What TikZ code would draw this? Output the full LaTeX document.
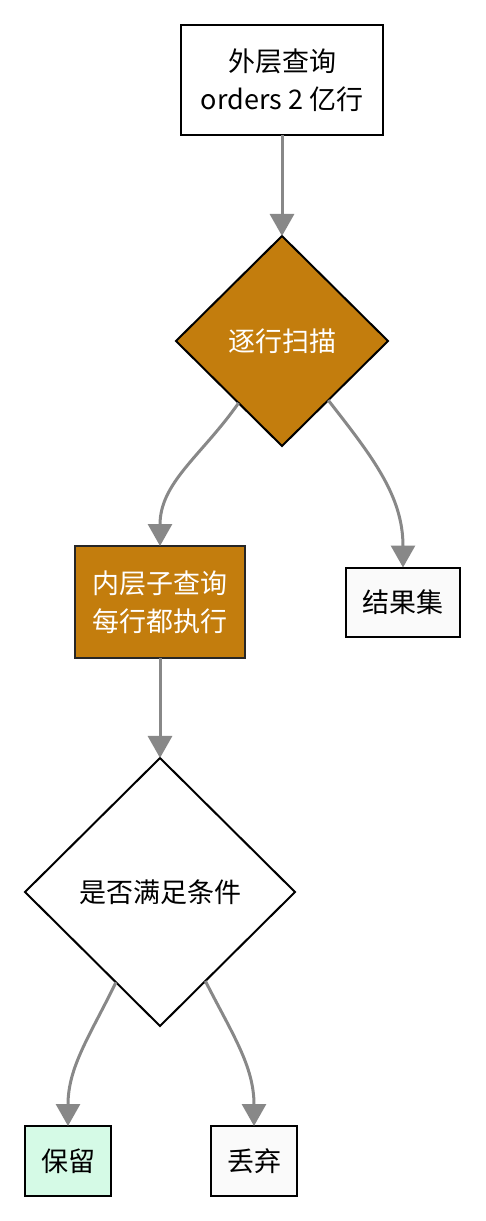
\documentclass[tikz,border=0pt]{standalone}
\usepackage{fontspec}
\setmainfont{Noto Sans CJK SC}
\usetikzlibrary{positioning,shapes.geometric,arrows.meta}
\definecolor{scanorange}{RGB}{195,125,13}
\definecolor{keepgreen}{RGB}{213,250,230}
\definecolor{plaingray}{RGB}{250,250,250}
\definecolor{linegray}{RGB}{136,136,136}

\begin{document}
\begin{tikzpicture}[
font=\fontsize{27}{38}\selectfont,
plainbox/.style={rectangle, draw=black, fill=white, line width=2pt, align=center, inner sep=0pt, outer sep=0pt},
orangebox/.style={rectangle, draw=black!85, fill=scanorange, text=white, line width=2.5pt, align=center, inner sep=0pt, outer sep=0pt},
decision/.style={diamond, draw=black, line width=2pt, inner sep=0pt, outer sep=0pt, align=center},
flow/.style={-{Triangle[width=24pt,length=22pt]}, draw=linegray, line width=3pt},
]
\useasboundingbox (0pt,0pt) rectangle (485pt,-1221pt);

%Nodes
\node[plainbox, minimum width=202pt, minimum height=110pt]  (outer)  at (282pt,-80pt)  {外层查询\\orders 2 亿行};
\node[decision, fill=scanorange, text=white, minimum width=212pt, minimum height=210pt] (scan) [below=101pt of outer] {逐行扫描};
\node[orangebox, minimum width=170pt, minimum height=112pt] (inner) [below=100pt of scan, xshift=-122pt] {内层子查询\\每行都执行};
\node[plainbox, fill=plaingray, minimum width=114pt, minimum height=69pt] (result) [right=101pt of inner] {结果集};
\node[decision, fill=white, minimum width=270pt, minimum height=268pt] (check) [below=100pt of inner] {是否满足条件};
\node[plainbox, fill=keepgreen, minimum width=86pt, minimum height=70pt] (keep) [below=100pt of check, xshift=-92pt] {保留};
\node[plainbox, fill=plaingray, minimum width=86pt, minimum height=70pt] (drop) [right=100pt of keep] {丢弃};

%Lines
\draw[flow] (outer) -- (scan);
\draw[flow] (scan) to[out=-125, in=90] (inner);
\draw[flow] (scan) to[out=-52, in=90] (result);
\draw[flow] (inner) -- (check);
\draw[flow] (check) to[out=-116, in=90] (keep);
\draw[flow] (check) to[out=-63, in=90] (drop);

\end{tikzpicture}
\end{document}
